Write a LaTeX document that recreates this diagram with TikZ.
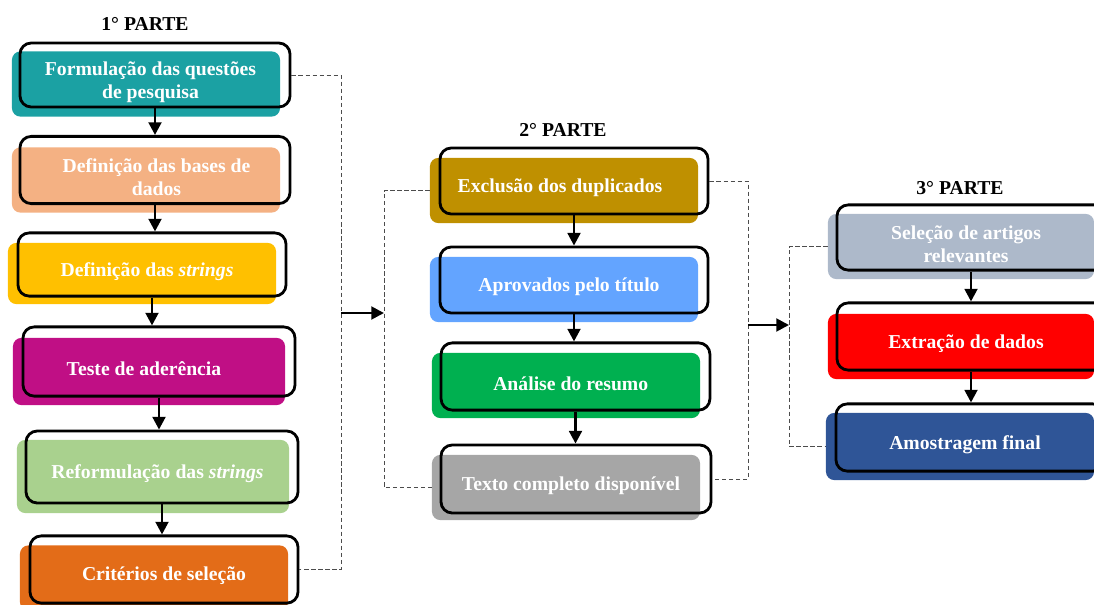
\documentclass[tikz,border=0pt]{standalone}
\usepackage{fontspec}
\setmainfont{Liberation Serif}
\usetikzlibrary{arrows.meta,calc}

\definecolor{cteal}{HTML}{1BA1A3}
\definecolor{csalmon}{HTML}{F4B183}
\definecolor{cyellow}{HTML}{FFC000}
\definecolor{cmagenta}{HTML}{C00F85}
\definecolor{clgreen}{HTML}{A9D18E}
\definecolor{corange}{HTML}{E36C18}
\definecolor{cgold}{HTML}{BF9000}
\definecolor{cblue}{HTML}{63A4FF}
\definecolor{cgreen}{HTML}{00B050}
\definecolor{cgray}{HTML}{A6A6A6}
\definecolor{cbluegray}{HTML}{ADB9CA}
\definecolor{cred}{HTML}{FF0000}
\definecolor{cdarkblue}{HTML}{2F5597}

\tikzset{
  stepfill/.style={rounded corners=6pt, minimum width=6.7cm, minimum height=1.63cm, inner sep=0pt},
  steptext/.style={text=white, align=center, inner sep=0pt, yshift=-0.06cm,
    font=\bfseries\fontsize{14}{16.5}\selectfont},
  stepline/.style={draw, line width=2pt, rounded corners=8pt, minimum width=6.75cm,
    minimum height=1.68cm, inner sep=0pt},
  flow/.style={-{Triangle[length=9pt,width=9pt]}, line width=2pt},
  link/.style={gray!60!black, line width=0.7pt, dash pattern=on 3pt off 2pt},
  parte/.style={font=\bfseries\fontsize{14}{16.5}\selectfont}
}

\begin{document}
\begin{tikzpicture}[x=0.025cm,y=-0.025cm]
  \path[use as bounding box, clip] (0,0) rectangle (1094,605);

  % 1a parte
  \node[parte] (p1) at (145,24) {1° PARTE};
  \node[stepfill, fill=cteal] (f1) at (146,84) {};
  \node[stepfill, fill=csalmon] (f2) at (146,180) {};
  \node[stepfill, fill=cyellow, minimum height=1.53cm] (f3) at (142,273.5) {};
  \node[stepfill, fill=cmagenta, minimum width=6.8cm, minimum height=1.68cm] (f4) at (149,371.5) {};
  \node[stepfill, fill=clgreen, minimum width=6.8cm, minimum height=1.83cm] (f5) at (153,476.5) {};
  \node[stepfill, fill=corange] (f6) at (154,578) {};

  \node[stepline, minimum height=1.6cm] (o1) at (155,75) {};
  \node[stepline] (o2) at (155,170) {};
  \node[stepline, minimum width=6.7cm, minimum height=1.58cm] (o3) at (152,264.5) {};
  \node[stepline, minimum width=6.8cm, minimum height=1.73cm] (o4) at (159,361.5) {};
  \node[stepline, minimum width=6.8cm, minimum height=1.8cm] (o5) at (162,467) {};
  \node[stepline, minimum width=6.7cm] (o6) at (164,569.5) {};

  \node[steptext] (t1) at ($(f1)!.5!(o1)$) {Formulação das questões\\de pesquisa};
  \node[steptext] (t2) at ($(f2)!.5!(o2)+(6,0)$) {Definição das bases de\\dados};
  \node[steptext] (t3) at ($(f3)!.5!(o3)$) {Definição das \textit{strings}};
  \node[steptext] (t4) at ($(f4)!.5!(o4)+(-10,0)$) {Teste de aderência};
  \node[steptext] (t5) at ($(f5)!.5!(o5)$) {Reformulação das \textit{strings}};
  \node[steptext] (t6) at ($(f6)!.5!(o6)+(5,0)$) {Critérios de seleção};

  \draw[flow] (o1.south) -- (o1.south |- o2.north);
  \draw[flow] (o2.south) -- (o2.south |- o3.north);
  \draw[flow] (o3.south) -- (o3.south |- o4.north);
  \draw[flow] (o4.south) -- (o4.south |- o5.north);
  \draw[flow] (o5.south) -- (o5.south |- o6.north);

  % 2a parte
  \node[parte] (p2) at (563,130) {2° PARTE};
  \node[stepfill, fill=cgold] (f7) at (564,190.5) {};
  \node[stepfill, fill=cblue] (f8) at (564,289.5) {};
  \node[stepfill, fill=cgreen] (f9) at (566,385.5) {};
  \node[stepfill, fill=cgray] (f10) at (566,487.5) {};

  \node[stepline, minimum width=6.7cm, minimum height=1.65cm] (o7) at (574,181) {};
  \node[stepline, minimum width=6.7cm, minimum height=1.65cm] (o8) at (574,280) {};
  \node[stepline, minimum width=6.72cm] (o9) at (575.5,376.5) {};
  \node[stepline, minimum height=1.7cm] (o10) at (576,479) {};

  \node[steptext] (t7) at ($(f7)!.5!(o7)+(-9,0)$) {Exclusão dos duplicados};
  \node[steptext] (t8) at ($(f8)!.5!(o8)$) {Aprovados pelo título};
  \node[steptext] (t9) at ($(f9)!.5!(o9)$) {Análise do resumo};
  \node[steptext] (t10) at ($(f10)!.5!(o10)$) {Texto completo disponível};

  \draw[flow] (o7.south) -- (o7.south |- o8.north);
  \draw[flow] (o8.south) -- (o8.south |- o9.north);
  \draw[flow] (o9.south) -- (o9.south |- o10.north);

  % 3a parte
  \node[parte] (p3) at (960,188) {3° PARTE};
  \node[stepfill, fill=cbluegray, minimum width=6.65cm] (f11) at (961,246.5) {};
  \node[stepfill, fill=cred, minimum width=6.65cm] (f12) at (961,346.5) {};
  \node[stepfill, fill=cdarkblue, minimum height=1.68cm] (f13) at (960,446.5) {};

  \node[stepline, minimum width=6.7cm, minimum height=1.63cm] (o11) at (971,237.5) {};
  \node[stepline, minimum width=6.7cm] (o12) at (971,336.5) {};
  \node[stepline, minimum width=6.7cm] (o13) at (970,437.5) {};

  \node[steptext] (t11) at ($(f11)!.5!(o11)$) {Seleção de artigos\\relevantes};
  \node[steptext] (t12) at ($(f12)!.5!(o12)$) {Extração de dados};
  \node[steptext] (t13) at ($(f13)!.5!(o13)$) {Amostragem final};

  \draw[flow] (o11.south) -- (o11.south |- o12.north);
  \draw[flow] (o12.south) -- (o12.south |- o13.north);

  % ligacoes entre partes
  \coordinate (b1) at (341,313);
  \coordinate (c1) at (384,313);
  \coordinate (b2) at (748,325);
  \coordinate (c2) at (789,325);
  \draw[link] (o1.east) -| (b1) |- (o6.east);
  \draw[link] (f7.west) -| (c1) |- (f10.west);
  \draw[link] (o7.east) -| (b2) |- (o10.east);
  \draw[link] (f11.west) -| (c2) |- (f13.west);
  \draw[flow] (b1) -- (c1);
  \draw[flow] (b2) -- (c2);
\end{tikzpicture}
\end{document}
